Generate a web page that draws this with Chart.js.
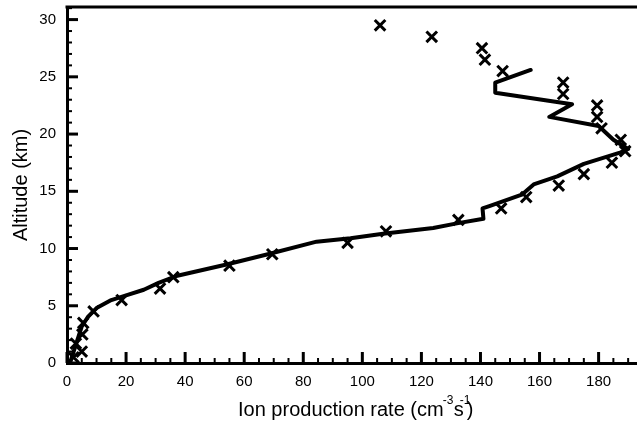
<!DOCTYPE html>
<html lang="en">
<head>
<meta charset="utf-8">
<title>Ion production rate vs altitude</title>
<script src="https://cdn.jsdelivr.net/npm/chart.js@4.4.0/dist/chart.umd.min.js"></script>
<style>
  html, body { margin: 0; padding: 0; background: #fff; }
  #holder { width: 637px; height: 423px; }
</style>
</head>
<body>
<div id="holder"><canvas id="chart"></canvas></div>
<script>
  // measured profile (crosses)
  const measAlt = [29.5, 28.5, 27.5, 26.5, 25.5, 24.5, 23.5, 22.5, 21.5, 20.5,
                   19.5, 18.5, 17.5, 16.5, 15.5, 14.5, 13.5, 12.5, 11.5, 10.5,
                   9.5, 8.5, 7.5, 6.5, 5.5, 4.5, 3.5, 2.5, 1.7, 1.0, 0.5];
  const measRate = [106, 123.5, 140.5, 141.5, 147.5, 168, 168, 179.5, 179.5, 181,
                    187.5, 189, 184.5, 175, 166.5, 155.5, 147, 132.5, 108, 95,
                    69.5, 55, 36, 31.5, 18.5, 9, 5.5, 5.2, 3, 5, 2.2];

  // model profile (solid line)
  const modelAlt = [0, 0.8, 1.6, 2.4, 3.2, 4.0, 4.8, 5.5, 5.9, 6.4, 7.0, 7.6, 8.6, 9.5,
                    10.6, 10.9, 11.3, 11.8, 12.2, 12.6, 13.5, 13.7, 14.7, 15.6, 16.3,
                    17.4, 18.4, 18.7, 19.5, 20.7, 21.5, 22.6, 23.6, 24.5, 25.6];
  const modelRate = [1, 2, 3, 4, 5, 7, 10, 15, 20, 26, 31, 37, 54, 68,
                     84.5, 96, 107, 124, 132, 141, 140.7, 143, 154, 158, 166,
                     175, 187.5, 190, 185, 180, 163.3, 171, 145, 145, 157];

  const xMajor = 20;
  const yMajor = 5;
  const fontFamily = "'Liberation Sans', Arial, sans-serif";

  const frameAndTicks = {
    id: 'frameAndTicks',
    afterDraw(chart) {
      const { ctx, chartArea: a, scales: { x, y } } = chart;
      ctx.save();
      ctx.strokeStyle = '#000';
      ctx.lineWidth = 3;
      ctx.beginPath();
      ctx.moveTo(a.left - 1.5, a.top);
      ctx.lineTo(a.right, a.top);
      ctx.stroke();

      x.ticks.forEach(t => {
        const major = t.value % xMajor === 0;
        const px = x.getPixelForValue(t.value);
        ctx.lineWidth = major ? 3 : 2;
        ctx.beginPath();
        ctx.moveTo(px, a.bottom);
        ctx.lineTo(px, a.bottom - (major ? 11 : 5));
        ctx.stroke();
      });
      y.ticks.forEach(t => {
        const major = t.value % yMajor === 0;
        const py = y.getPixelForValue(t.value);
        ctx.lineWidth = major ? 3 : 2;
        ctx.beginPath();
        ctx.moveTo(a.left, py);
        ctx.lineTo(a.left + (major ? 11 : 5), py);
        ctx.stroke();
      });

      // x title with superscripts
      ctx.fillStyle = '#000';
      ctx.textBaseline = 'alphabetic';
      const ty = 416;
      const tx = a.left + 171;
      ctx.font = '20px ' + fontFamily;
      const head = 'Ion production rate (cm';
      ctx.fillText(head, tx, ty);
      const e = tx + ctx.measureText(head).width;
      ctx.fillText('s', e + 10, ty);
      ctx.fillText(')', e + 23, ty);
      ctx.font = '12px ' + fontFamily;
      ctx.fillText('-3', e - 1, ty - 12);
      ctx.fillText('-1', e + 16, ty - 12);
      ctx.restore();
    }
  };

  const ctx = document.getElementById('chart');
  new Chart(ctx, {
    type: 'scatter',
    data: {
      datasets: [
        {
          label: 'Model',
          data: modelRate.map((v, i) => ({ x: v, y: modelAlt[i] })),
          showLine: true,
          borderColor: '#000',
          borderWidth: 4,
          pointRadius: 0,
          borderJoinStyle: 'round',
          borderCapStyle: 'round',
          tension: 0
        },
        {
          label: 'Measured',
          data: measRate.map((v, i) => ({ x: v, y: measAlt[i] })),
          showLine: false,
          pointStyle: 'crossRot',
          pointRadius: 7.5,
          pointBorderWidth: 3,
          borderColor: '#000',
          backgroundColor: '#000'
        }
      ]
    },
    options: {
      responsive: true,
      maintainAspectRatio: false,
      animation: false,
      layout: { autoPadding: false, padding: { top: 7, right: 0, left: 0, bottom: 0 } },
      plugins: {
        legend: { display: false },
        tooltip: { enabled: false }
      },
      scales: {
        x: {
          type: 'linear',
          min: 0,
          max: 193,
          grid: { display: false, drawTicks: false },
          border: { display: true, color: '#000', width: 3 },
          afterFit: s => {
            s.height = 60;
            s.paddingLeft = 0;
            s.paddingRight = 0;
          },
          ticks: {
            stepSize: 5,
            includeBounds: false,
            autoSkip: false,
            maxRotation: 0,
            padding: 10,
            color: '#000',
            font: { family: fontFamily, size: 15 },
            callback: v => (v % xMajor === 0 ? v : '')
          }
        },
        y: {
          type: 'linear',
          min: 0,
          max: 31.1,
          grid: { display: false, drawTicks: false },
          border: { display: true, color: '#000', width: 3 },
          afterFit: s => {
            s.width = 67;
            s.paddingTop = 0;
            s.paddingBottom = 0;
          },
          title: {
            display: true,
            text: 'Altitude (km)',
            color: '#000',
            font: { family: fontFamily, size: 20 },
            padding: { top: 9, bottom: 0 }
          },
          ticks: {
            stepSize: 1,
            includeBounds: false,
            autoSkip: false,
            padding: 11,
            color: '#000',
            font: { family: fontFamily, size: 15 },
            callback: v => (v % yMajor === 0 ? v : '')
          }
        }
      }
    },
    plugins: [frameAndTicks]
  });
</script>
</body>
</html>
